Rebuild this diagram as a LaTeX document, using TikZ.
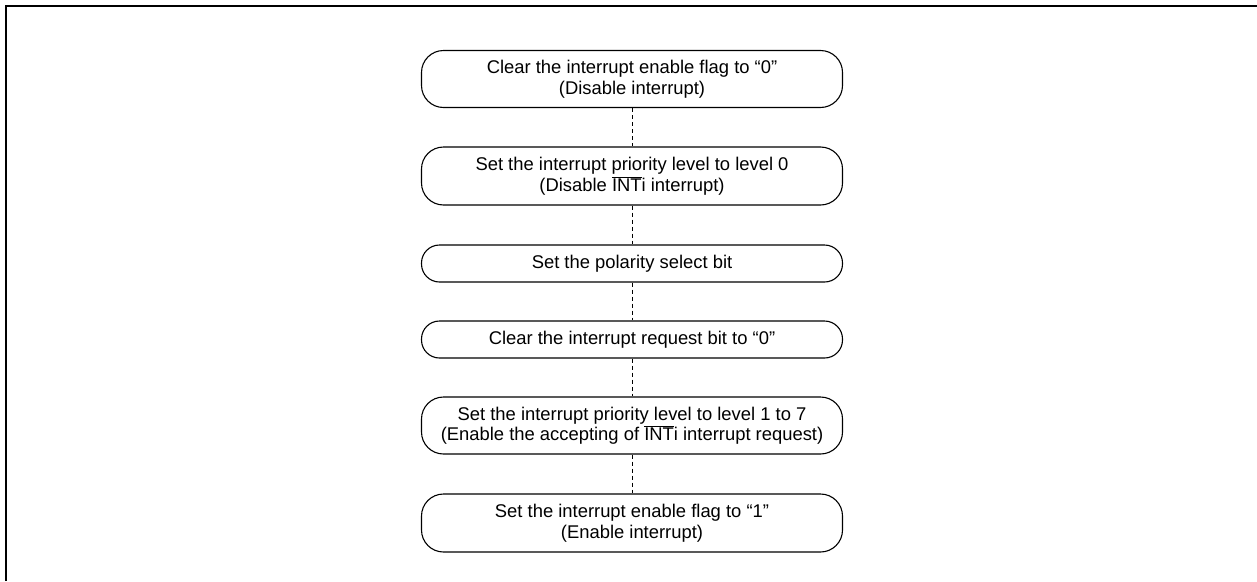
\documentclass[tikz,border=0pt]{standalone}
\usepackage{fontspec}
\setmainfont{Liberation Sans}
\begin{document}
\begin{tikzpicture}[x=1pt,y=-1pt,
  stepbox/.style={draw, line width=1.1pt, rounded corners=22pt, minimum width=421pt,
    align=center, inner sep=0pt, font=\fontsize{18.4}{20.5}\selectfont},
  conn/.style={line width=1pt, dash pattern=on 4pt off 3pt}]
\useasboundingbox (0,0) rectangle (1257,581);
\draw[line width=2pt] (6,581) -- (6,6) -- (1257,6);
\node[stepbox, minimum height=57pt] (a) at (632,79) {Clear the interrupt enable flag to “0”\\(Disable interrupt)};
\node[stepbox, minimum height=58pt] (b) at (632,176) {Set the interrupt priority level to level 0\\(Disable $\overline{\mbox{INT}}$i interrupt)};
\node[stepbox, minimum height=37pt, rounded corners=18pt] (c) at (632,263.5) {Set the polarity select bit};
\node[stepbox, minimum height=37pt, rounded corners=18pt] (d) at (632,339.5) {Clear the interrupt request bit to “0”};
\node[stepbox, minimum height=57pt] (e) at (632,425.5) {Set the interrupt priority level to level 1 to 7\\(Enable the accepting of $\overline{\mbox{INT}}$i interrupt request)};
\node[stepbox, minimum height=58pt] (f) at (632,523) {Set the interrupt enable flag to “1”\\(Enable interrupt)};
\draw[conn] (a.south) -- (b.north);
\draw[conn] (b.south) -- (c.north);
\draw[conn] (c.south) -- (d.north);
\draw[conn] (d.south) -- (e.north);
\draw[conn] (e.south) -- (f.north);
\end{tikzpicture}
\end{document}
